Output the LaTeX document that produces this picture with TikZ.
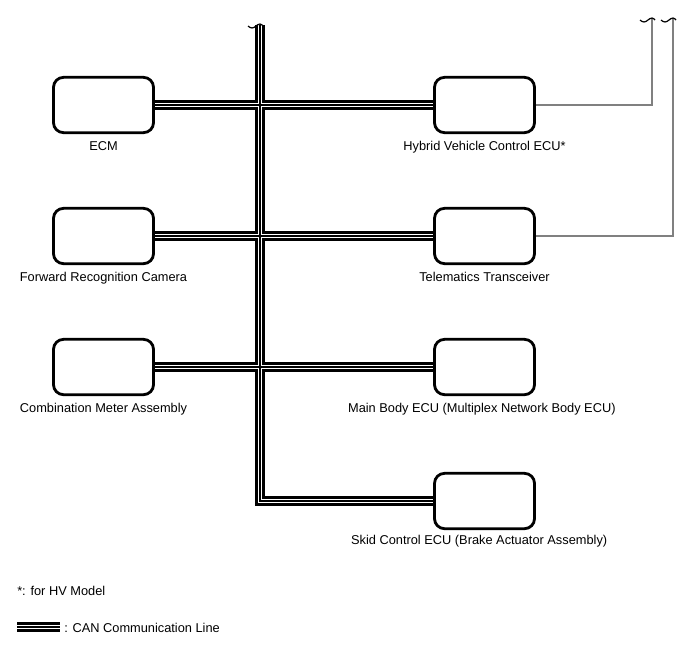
\documentclass[tikz,border=0pt]{standalone}
\usepackage{fontspec}
\setmainfont{Liberation Sans}
\usetikzlibrary{positioning}

\pgfdeclarelayer{background}
\pgfsetlayers{background,main}

\tikzset{
	ecu/.style={draw,line width=2.1pt,rounded corners=7.5pt,minimum width=75pt,minimum height=41.5pt,inner sep=0pt},
	lbl/.style={inner sep=0pt,font=\fontsize{9.6}{11}\selectfont},
	sigline/.style={draw=gray,line width=0.8pt},
	wavy/.style={draw=black,line width=0.9pt}
}

% small wave where a line is cut off
\newcommand{\wavyend}[1]{\draw[wavy] (#1) ++(-12,2) sin ++(4,2) cos ++(4,-2) sin ++(4,-2) cos ++(3,2);}

\begin{document}
\begin{tikzpicture}[x=0.75pt,y=-0.75pt]
			\useasboundingbox (0,0) rectangle (688,658);
			
			% control units
			\node[ecu] (ecm) at (103.5,105) {};
			\node[ecu] (fcam) at (103.5,236) {};
			\node[ecu] (meter) at (103.5,367) {};
			\node[ecu] (hvecu) at (484.5,105) {};
			\node[ecu] (tele) at (484.5,236) {};
			\node[ecu] (mainbody) at (484.5,367) {};
			\node[ecu] (skid) at (484.5,501) {};
			
			\node[lbl,below=12.5pt of ecm,anchor=base] (ecmlbl) {ECM};
			\node[lbl,below=12.5pt of fcam,anchor=base] (fcamlbl) {Forward Recognition Camera};
			\node[lbl,below=12.5pt of meter,anchor=base] (meterlbl) {Combination Meter Assembly};
			\node[lbl,below=12.5pt of hvecu,anchor=base] (hveculbl) {Hybrid Vehicle Control ECU*};
			\node[lbl,below=12.5pt of tele,anchor=base] (telelbl) {Telematics Transceiver};
			\node[lbl,below=12.5pt of mainbody,anchor=base,xshift=-2pt] (mainbodylbl) {Main Body ECU (Multiplex Network Body ECU)};
			\node[lbl,below=11pt of skid,anchor=base,xshift=-4pt] (skidlbl) {Skid Control ECU (Brake Actuator Assembly)};
			
			% CAN bus
			\coordinate (bustop) at (260,25);
			\coordinate (lgA) at (17,627);
			\coordinate (lgB) at (60,627);
			\begin{pgfonlayer}{background}
			\foreach \w/\c in {8.2pt/black,3.6pt/white,1.3pt/black}{
				\draw[line width=\w,\c] (bustop) |- (skid.west);
				\draw[line width=\w,\c] (ecm.east) -- (ecm.east -| bustop);
				\draw[line width=\w,\c] (fcam.east) -- (fcam.east -| bustop);
				\draw[line width=\w,\c] (meter.east) -- (meter.east -| bustop);
				\draw[line width=\w,\c] (hvecu.west -| bustop) -- (hvecu.west);
				\draw[line width=\w,\c] (tele.west -| bustop) -- (tele.west);
				\draw[line width=\w,\c] (mainbody.west -| bustop) -- (mainbody.west);
				\draw[line width=\w,\c] (lgA) -- (lgB);
			}
			\end{pgfonlayer}
			\wavyend{260,24}
			
			% other lines
			\coordinate (hvtop) at (652,18);
			\coordinate (teletop) at (673,18);
			\draw[sigline] (hvecu.east) -| (hvtop);
			\draw[sigline] (tele.east) -| (teletop);
			\wavyend{hvtop}
			\wavyend{teletop}
			
			% notes
			\node[lbl,anchor=base west] (note) at (17,595.5) {*: for HV Model};
			\node[lbl,anchor=base west] (legend) at (64,632.5) {: CAN Communication Line};
\end{tikzpicture}
\end{document}
